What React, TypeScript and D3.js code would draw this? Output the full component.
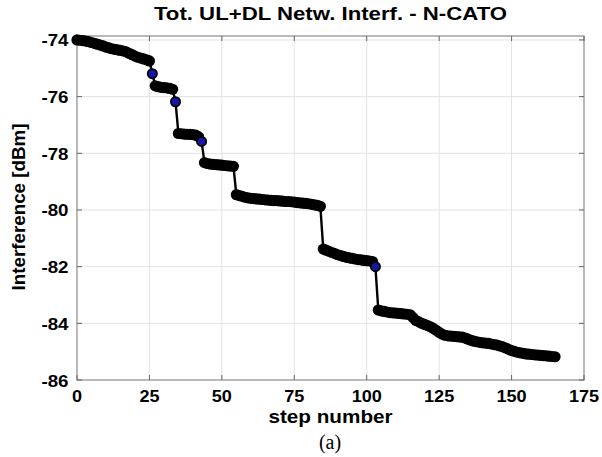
import React, { useEffect, useRef } from 'react';
import * as d3 from 'd3';

// interference per step (dBm)
const run1 = [
  -74.0, -74.01, -74.02, -74.04, -74.06, -74.09, -74.12, -74.15, -74.18, -74.21,
  -74.25, -74.28, -74.31, -74.33, -74.35, -74.37, -74.39, -74.42, -74.47, -74.52,
  -74.57, -74.61, -74.64, -74.67, -74.7, -74.74, -75.19,
];
const run2 = [-75.62, -75.65, -75.67, -75.68, -75.69, -75.71, -75.74, -76.18];
const run3 = [-77.3, -77.31, -77.32, -77.33, -77.33, -77.34, -77.36, -77.42, -77.58];
const run4 = [-78.33, -78.36, -78.38, -78.39, -78.4, -78.41, -78.42, -78.43, -78.44, -78.45, -78.46];
const run5 = [
  -79.46, -79.49, -79.52, -79.55, -79.57, -79.59, -79.6, -79.61, -79.62, -79.63,
  -79.64, -79.65, -79.66, -79.67, -79.67, -79.68, -79.69, -79.7, -79.7, -79.71,
  -79.72, -79.74, -79.75, -79.76, -79.77, -79.78, -79.8, -79.82, -79.84, -79.87,
];
const run6 = [
  -81.38, -81.42, -81.46, -81.5, -81.54, -81.58, -81.61, -81.64, -81.67, -81.69,
  -81.71, -81.73, -81.75, -81.76, -81.78, -81.79, -81.8, -81.82, -82.0,
];
const run7 = [
  -83.53, -83.56, -83.58, -83.6, -83.62, -83.63, -83.64, -83.65, -83.66, -83.67,
  -83.68, -83.7, -83.8, -83.9, -83.95, -84.0, -84.04, -84.08, -84.12, -84.18,
  -84.25, -84.32, -84.38, -84.42, -84.44, -84.45, -84.46, -84.47, -84.48, -84.49,
  -84.52, -84.56, -84.6, -84.63, -84.65, -84.67, -84.69, -84.7, -84.71, -84.73,
  -84.75, -84.77, -84.8, -84.83, -84.87, -84.92, -84.96, -84.99, -85.02, -85.04,
  -85.06, -85.08, -85.09, -85.1, -85.11, -85.12, -85.13, -85.14, -85.15, -85.16,
  -85.17, -85.18,
];
// steps whose marker shows blue (isolated points between runs)
const blueSteps = [26, 34, 43, 103];

const xTicks = [0, 25, 50, 75, 100, 125, 150, 175];
const yTicks = [-86, -84, -82, -80, -78, -76, -74];

const App = () => {
  const svgRef = useRef<SVGSVGElement>(null);

  useEffect(() => {
    const svg = d3.select(svgRef.current);
    svg.selectAll('*').remove();

    const values = [...run1, ...run2, ...run3, ...run4, ...run5, ...run6, ...run7];
    const data = values.map((v, i) => ({ step: i, v }));

    const left = 77, right = 584, top = 36, bottom = 380;
    const x = d3.scaleLinear().domain([0, 175]).range([left, right]);
    const y = d3.scaleLinear().domain([-86, -73.86]).range([bottom, top]);
    const font = 'Liberation Sans, Arial, sans-serif';

    // text is a bit wider in the figure than Liberation Sans, so stretch it
    const label = (px: number, py: number, txt: string | number, size: number, anchor: string, sx = 1) =>
      svg.append('text')
        .attr('transform', `translate(${px},${py}) scale(${sx},1)`)
        .attr('text-anchor', anchor)
        .style('font-family', font).style('font-weight', 'bold').style('font-size', `${size}px`)
        .text(txt);

    // grid
    svg.append('g').selectAll('line').data(xTicks.slice(1, -1)).enter().append('line')
      .attr('x1', (d) => x(d)).attr('x2', (d) => x(d))
      .attr('y1', top).attr('y2', bottom)
      .attr('stroke', '#e3e3e3').attr('stroke-width', 1);
    svg.append('g').selectAll('line').data(yTicks.slice(1)).enter().append('line')
      .attr('x1', left).attr('x2', right)
      .attr('y1', (d) => y(d)).attr('y2', (d) => y(d))
      .attr('stroke', '#e3e3e3').attr('stroke-width', 1);

    // box + inward ticks
    svg.append('rect')
      .attr('x', left).attr('y', top).attr('width', right - left).attr('height', bottom - top)
      .attr('fill', 'none').attr('stroke', '#8a8a8a').attr('stroke-width', 1.2);
    const tickLen = 5;
    const tg = svg.append('g').attr('stroke', '#666').attr('stroke-width', 1);
    xTicks.forEach((t) => {
      tg.append('line').attr('x1', x(t)).attr('x2', x(t)).attr('y1', bottom).attr('y2', bottom - tickLen);
      tg.append('line').attr('x1', x(t)).attr('x2', x(t)).attr('y1', top).attr('y2', top + tickLen);
    });
    yTicks.forEach((t) => {
      tg.append('line').attr('x1', left).attr('x2', left + tickLen).attr('y1', y(t)).attr('y2', y(t));
      tg.append('line').attr('x1', right).attr('x2', right - tickLen).attr('y1', y(t)).attr('y2', y(t));
    });

    // tick labels
    xTicks.forEach((t) => label(x(t), 402, t, 16, 'middle', 1.13));
    yTicks.forEach((t) => label(68.5, y(t) + 6.5, t, 16, 'end', 1.17));

    // line + markers
    const line = d3.line<{ step: number; v: number }>().x((d) => x(d.step)).y((d) => y(d.v));
    svg.append('path').datum(data)
      .attr('d', line).attr('fill', 'none').attr('stroke', '#000').attr('stroke-width', 2.4);
    svg.append('g').selectAll('circle').data(data).enter().append('circle')
      .attr('cx', (d) => x(d.step)).attr('cy', (d) => y(d.v))
      .attr('r', (d) => (blueSteps.includes(d.step) ? 4.6 : 5.6))
      .attr('fill', (d) => (blueSteps.includes(d.step) ? '#1616a8' : '#000'))
      .attr('stroke', '#000')
      .attr('stroke-width', (d) => (blueSteps.includes(d.step) ? 1.8 : 0));

    // titles
    label((left + right) / 2, 20, 'Tot. UL+DL Netw. Interf. - N-CATO', 18.5, 'middle', 1.2);
    label((left + right) / 2, 423, 'step number', 18.5, 'middle', 1.12);
    svg.append('text')
      .attr('transform', 'translate(25,207) rotate(-90)')
      .attr('text-anchor', 'middle')
      .style('font-family', font).style('font-weight', 'bold').style('font-size', '18.8px')
      .text('Interference [dBm]');
    svg.append('text')
      .attr('x', 330).attr('y', 449).attr('text-anchor', 'middle')
      .style('font-family', 'Liberation Serif, Times New Roman, serif').style('font-size', '20px')
      .text('(a)');
  }, []);

  return (
    <svg ref={svgRef} width={602} height={457}
      style={{ position: 'absolute', left: 0, top: 0, background: '#fff' }} />
  );
};

export default App;
